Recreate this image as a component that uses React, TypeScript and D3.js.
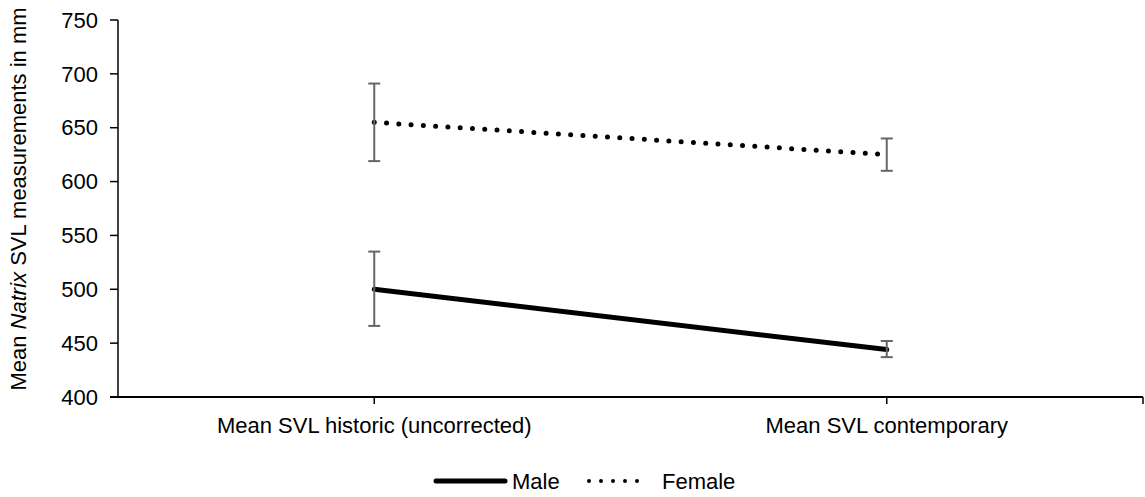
import React from "react";
import * as d3 from "d3";

const categories = ["Mean SVL historic (uncorrected)", "Mean SVL contemporary"];
const maleMean = [500, 444];
const maleErrLow = [466, 437];
const maleErrHigh = [535, 452];
const femaleMean = [655, 625];
const femaleErrLow = [619, 610];
const femaleErrHigh = [691, 640];
const yTicks = [400, 450, 500, 550, 600, 650, 700, 750];

const W = 1145;
const H = 497;
const left = 118;
const right = 1143;
const top = 20;
const bottom = 397;
const FONT = "'Liberation Sans', Arial, sans-serif";

export default function App() {
  const x = d3.scaleBand<string>().domain(categories).range([left, right]);
  const cx = (c: string) => (x(c) as number) + x.bandwidth() / 2;
  const y = d3.scaleLinear().domain([400, 750]).range([bottom, top]);

  const line = d3
    .line<number>()
    .x((_, i) => cx(categories[i]))
    .y((d) => y(d));

  const series = [
    { name: "Male", mean: maleMean, lo: maleErrLow, hi: maleErrHigh, dash: undefined as string | undefined, width: 5 },
    { name: "Female", mean: femaleMean, lo: femaleErrLow, hi: femaleErrHigh, dash: "0 12.3", width: 5 },
  ];

  return (
    <svg
      width={W}
      height={H}
      style={{ position: "absolute", left: 0, top: 0, background: "#fff" }}
      fontFamily={FONT}
    >
      {/* axes */}
      <line x1={left} x2={left} y1={top} y2={bottom} stroke="#000" strokeWidth={1.5} />
      <line x1={left - 8} x2={right} y1={bottom} y2={bottom} stroke="#000" strokeWidth={2} />
      {yTicks.map((t) => (
        <g key={t}>
          <line x1={left - 8} x2={left} y1={y(t)} y2={y(t)} stroke="#000" strokeWidth={1.5} />
          <text x={98} y={y(t)} dy="0.35em" textAnchor="end" fontSize={22} fill="#000">
            {t}
          </text>
        </g>
      ))}
      {[...categories.map((c) => cx(c)), right].map((px, i) => (
        <line key={i} x1={px} x2={px} y1={bottom} y2={bottom + 7} stroke="#000" strokeWidth={1.5} />
      ))}
      {categories.map((c) => (
        <text key={c} x={cx(c)} y={425} dy="0.35em" textAnchor="middle" fontSize={22} fill="#000">
          {c}
        </text>
      ))}
      <text
        transform={`translate(${18},${199}) rotate(-90)`}
        textAnchor="middle"
        dy="0.35em"
        fontSize={22}
        fill="#000"
      >
        Mean <tspan fontStyle="italic">Natrix</tspan> SVL measurements in mm
      </text>

      {/* series */}
      {series.map((s) => (
        <g key={s.name}>
          <path
            d={line(s.mean) as string}
            fill="none"
            stroke="#000"
            strokeWidth={s.width}
            strokeDasharray={s.dash}
            strokeLinecap="round"
          />
          {s.mean.map((_, i) => {
            const px = cx(categories[i]);
            return (
              <g key={i} stroke="#666" strokeWidth={2}>
                <line x1={px} x2={px} y1={y(s.lo[i])} y2={y(s.hi[i])} />
                <line x1={px - 6} x2={px + 6} y1={y(s.lo[i])} y2={y(s.lo[i])} />
                <line x1={px - 6} x2={px + 6} y1={y(s.hi[i])} y2={y(s.hi[i])} />
              </g>
            );
          })}
        </g>
      ))}

      {/* legend */}
      <line x1={436} x2={505} y1={481} y2={481} stroke="#000" strokeWidth={5} strokeLinecap="round" />
      <text x={512} y={481} dy="0.35em" fontSize={22} fill="#000">Male</text>
      <line x1={589} x2={649} y1={481} y2={481} stroke="#000" strokeWidth={4} strokeDasharray="0 12" strokeLinecap="round" />
      <text x={662} y={481} dy="0.35em" fontSize={22} fill="#000">Female</text>
    </svg>
  );
}
